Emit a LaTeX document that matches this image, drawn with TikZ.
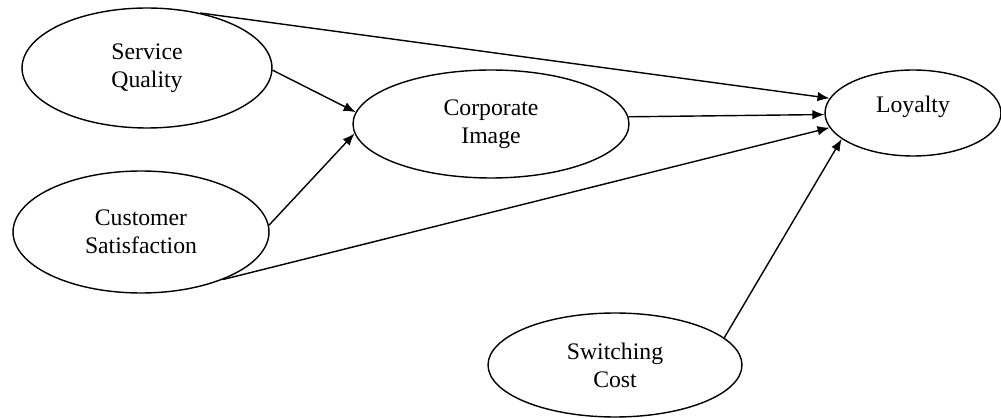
\documentclass[tikz,border=0pt]{standalone}
\usepackage{fontspec}
\setmainfont{Liberation Serif}
\usetikzlibrary{shapes.geometric,arrows.meta}
\begin{document}
\begin{tikzpicture}[x=0.02cm,y=-0.02cm,
  ov/.style={draw, ellipse, line width=0.8pt, inner sep=0pt, align=center,
    font=\fontsize{13.5}{16}\selectfont},
  conn/.style={line width=0.8pt, -{Latex[length=0.24cm,width=0.19cm]}}]
\useasboundingbox (0,0) rectangle (1001,418);
\node[ov, minimum width=5cm, minimum height=2.4cm] (sq) at (147,68) {Service\\Quality};
\node[ov, minimum width=5.12cm, minimum height=2.44cm] (cs) at (141,232) {Customer\\Satisfaction};
\node[ov, minimum width=5.52cm, minimum height=2.16cm] (ci) at (491,124) {Corporate\\Image};
\node[ov, minimum width=3.52cm, minimum height=1.72cm, text height=8.6pt, text depth=9pt] (loy) at (913,113) {Loyalty};
\node[ov, minimum width=5.08cm, minimum height=2.08cm] (sc) at (615,365) {Switching\\Cost};
\draw[conn] (sq.46) -- (loy.170);
\draw[conn] (sq.-1) -- (ci.175);
\draw[conn] (cs.3) -- (ci.184);
\draw[conn] (cs.-30.6) -- (loy.190);
\draw[conn] (ci.3) -- (loy.181);
\draw[conn] (sc.14) -- (loy.200.8);
\end{tikzpicture}
\end{document}
